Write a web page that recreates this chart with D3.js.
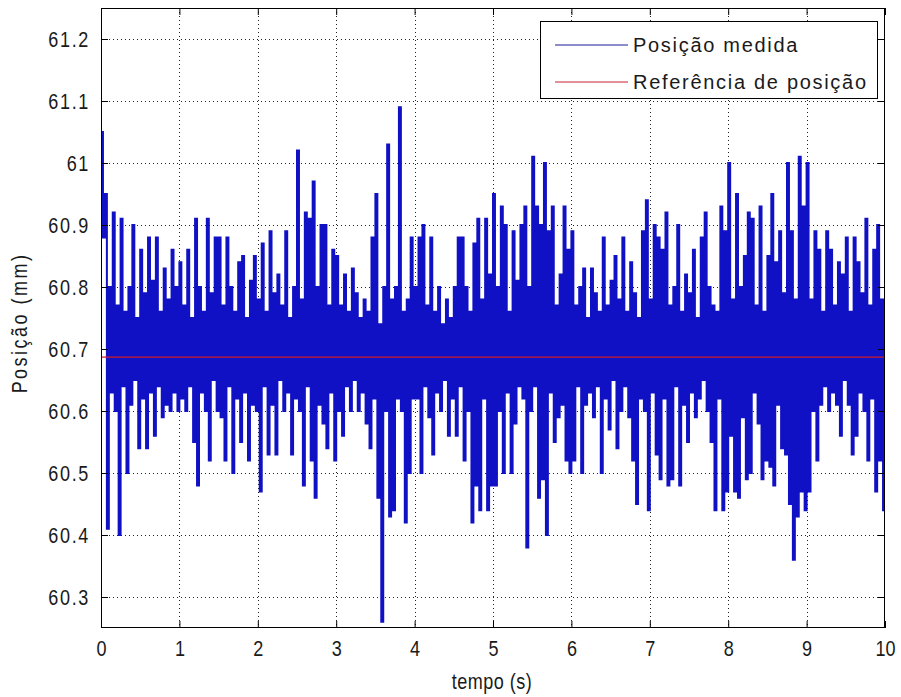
<!DOCTYPE html>
<html>
<head>
<meta charset="utf-8">
<script src="https://cdn.jsdelivr.net/npm/d3@7/dist/d3.min.js"></script>
<style>
  html, body { margin: 0; padding: 0; background: #ffffff; }
  svg { display: block; }
  text { font-family: "Liberation Sans", Arial, sans-serif; fill: #1a1a1a; }
</style>
</head>
<body>
<svg id="chart" width="901" height="697"></svg>
<script>
const amostraDt = 0.025;
const posicao0 = [61.05,60.88,60.95,60.41,60.80,60.63,60.92,60.60,60.77,60.40,60.91,60.64,60.76,60.50,60.80,60.61,60.90,60.65,60.75,60.54,60.86,60.62,60.79,60.54,60.88,60.63,60.81,60.56,60.88,60.64,60.76,60.59,60.83,60.61,60.78,60.60,60.86,60.63,60.80,60.60];
const posicao1 = [60.84,60.62,60.77,60.60,60.86,60.64,60.75,60.55,60.91,60.48,60.80,60.63,60.76,60.60,60.91,60.52,60.79,60.65,60.88,60.60,60.88,60.59,60.77,60.52,60.88,60.64,60.80,60.50,60.76,60.62,60.84,60.55,60.85,60.63,60.75,60.52,60.81,60.61,60.85,60.60];
const posicao2 = [60.78,60.47,60.87,60.64,60.76,60.53,60.89,60.61,60.79,60.53,60.82,60.65,60.77,60.60,60.89,60.63,60.75,60.53,60.80,60.62,61.02,60.60,60.78,60.48,60.92,60.64,60.91,60.52,60.97,60.46,60.80,60.61,60.90,60.58,60.90,60.54,60.77,60.63,60.86,60.52];
const posicao3 = [60.85,60.60,60.77,60.56,60.82,60.64,60.76,60.60,60.83,60.65,60.79,60.60,60.75,60.63,60.78,60.58,60.76,60.54,60.88,60.62,60.95,60.46,60.74,60.26,60.80,60.60,61.03,60.43,60.78,60.44,60.80,60.62,61.09,60.60,60.76,60.42,60.78,60.50,60.88,60.62];
const posicao4 = [60.80,60.62,60.88,60.50,60.90,60.64,60.77,60.59,60.88,60.53,60.76,60.63,60.80,60.60,60.74,60.65,60.78,60.56,60.75,60.62,60.80,60.56,60.88,60.64,60.88,60.52,60.80,60.60,60.76,60.42,60.87,60.48,60.91,60.44,60.78,60.62,60.91,60.44,60.82,60.48];
const posicao5 = [60.95,60.48,60.80,60.60,60.93,60.50,60.90,60.63,60.76,60.50,60.89,60.58,60.81,60.64,60.90,60.62,60.93,60.38,60.80,60.60,61.01,60.64,60.93,60.46,60.90,60.49,61.00,60.40,60.89,60.63,60.93,60.55,60.77,60.59,60.82,60.61,60.93,60.52,60.86,60.50];
const posicao6 = [60.89,60.52,60.77,60.64,60.80,60.50,60.83,60.61,60.75,60.63,60.83,60.59,60.79,60.64,60.76,60.50,60.88,60.62,60.77,60.57,60.81,60.65,60.85,60.54,60.78,60.60,60.88,60.64,60.76,60.59,60.84,60.52,60.79,60.45,60.75,60.62,60.89,60.60,60.94,60.44];
const posicao7 = [60.78,60.63,60.90,60.53,60.88,60.49,60.86,60.62,60.92,60.48,60.77,60.49,60.80,60.64,60.90,60.48,60.76,60.61,60.82,60.55,60.79,60.63,60.86,60.59,60.75,60.62,60.88,60.65,60.92,60.60,60.80,60.55,60.77,60.44,60.76,60.62,60.93,60.44,60.89,60.47];
const posicao8 = [61.00,60.56,60.78,60.47,60.95,60.46,60.80,60.59,60.85,60.49,60.92,60.50,60.91,60.63,60.77,60.58,60.93,60.49,60.76,60.52,60.85,60.51,60.95,60.48,60.84,60.61,60.89,60.54,60.79,60.53,61.00,60.45,60.89,60.36,60.78,60.43,61.01,60.47,60.93,60.44];
const posicao9 = [61.00,60.47,60.78,60.60,60.89,60.52,60.86,60.61,60.76,60.64,60.89,60.60,60.86,60.63,60.77,60.61,60.84,60.56,60.82,60.65,60.88,60.61,60.76,60.53,60.88,60.56,60.84,60.63,60.79,60.60,60.91,60.52,60.77,60.62,60.86,60.47,60.90,60.52,60.78,60.44,60.91];

// Reference position (constant set point)
const refTempo = [0, 10];
const refValor = [60.687, 60.687];

// Axis ticks
const xTicks = [0, 1, 2, 3, 4, 5, 6, 7, 8, 9, 10];
const yTicks = [60.3, 60.4, 60.5, 60.6, 60.7, 60.8, 60.9, 61.0, 61.1, 61.2];
const xDominio = [0, 10];
const yDominio = [60.25, 61.25];

const legendaRotulos = ["Posição medida", "Referência de posição"];
const xTitulo = "tempo (s)";
const yTitulo = "Posição (mm)";

// ---- Build the series ----
const segundos = [posicao0, posicao1, posicao2, posicao3, posicao4, posicao5, posicao6, posicao7, posicao8, posicao9];
const medida = [];
segundos.forEach((arr, s) => arr.forEach((v, k) => medida.push({ t: s + k * amostraDt, v })));
const referencia = refTempo.map((t, i) => ({ t, v: refValor[i] }));

// ---- Layout ----
const svg = d3.select("#chart");
const L = 101, T = 8, W = 784, H = 620;
const x = d3.scaleLinear().domain(xDominio).range([L, L + W]);
const y = d3.scaleLinear().domain(yDominio).range([T + H, T]);
const SX = 0.82; // horizontal squeeze for the narrow tick font

svg.append("rect").attr("x", 0).attr("y", 0).attr("width", 901).attr("height", 697).attr("fill", "#ffffff");

// grid (dotted)
const grid = svg.append("g").attr("stroke", "#222").attr("stroke-width", 1).attr("stroke-dasharray", "1,3");
grid.selectAll(".gx").data(xTicks.slice(1, -1)).enter().append("line")
  .attr("x1", d => Math.round(x(d)) + 0.5).attr("x2", d => Math.round(x(d)) + 0.5)
  .attr("y1", T).attr("y2", T + H);
grid.selectAll(".gy").data(yTicks).enter().append("line")
  .attr("y1", d => Math.round(y(d)) + 0.5).attr("y2", d => Math.round(y(d)) + 0.5)
  .attr("x1", L).attr("x2", L + W);

// clip
svg.append("clipPath").attr("id", "clip").append("rect").attr("x", L).attr("y", T).attr("width", W).attr("height", H);

// measured line
const linha = d3.line().x(d => x(d.t)).y(d => y(d.v)).curve(d3.curveStepAfter);
svg.append("path").datum(medida).attr("clip-path", "url(#clip)")
  .attr("fill", "none").attr("stroke", "#1010c4").attr("stroke-width", 2.0)
  .attr("stroke-linejoin", "miter")
  .attr("d", linha);

// reference line
const linhaRef = d3.line().x(d => x(d.t)).y(d => y(d.v));
svg.append("path").datum(referencia)
  .attr("fill", "none").attr("stroke", "#d21a2a").attr("stroke-width", 1.2)
  .attr("d", linhaRef);

// axes (ticks inward, box)
const tickLen = 7;
const axB = d3.axisBottom(x).tickValues(xTicks).tickSize(-tickLen).tickPadding(12).tickFormat(d3.format("d"));
const axT = d3.axisTop(x).tickValues(xTicks).tickSize(-tickLen).tickFormat("");
const axLft = d3.axisLeft(y).tickValues(yTicks).tickSize(-tickLen).tickPadding(11).tickFormat(d => d3.format("")(+d.toFixed(1)));
const axR = d3.axisRight(y).tickValues(yTicks).tickSize(-tickLen).tickFormat("");

function estilo(g) {
  g.select(".domain").remove();
  g.selectAll(".tick line").attr("stroke", "#000").attr("stroke-width", 1);
  g.selectAll(".tick text").attr("fill", "#1a1a1a").style("font-size", "22px")
    .style("letter-spacing", "2px")
    .style("font-family", "'Liberation Sans',sans-serif");
}
svg.append("g").attr("transform", `translate(0,${T + H})`).call(axB).call(estilo)
  .selectAll(".tick text").attr("transform", `scale(${SX},1)`).style("letter-spacing", "0px");
svg.append("g").attr("transform", `translate(0,${T})`).call(axT).call(estilo);
const gL = svg.append("g").attr("transform", `translate(${L},0)`).call(axLft).call(estilo);
gL.selectAll(".tick text").attr("x", -11 / SX).attr("transform", `scale(${SX},1)`);
svg.append("g").attr("transform", `translate(${L + W},0)`).call(axR).call(estilo);

svg.append("rect").attr("x", L + 0.5).attr("y", T + 0.5).attr("width", W - 1).attr("height", H - 1)
  .attr("fill", "none").attr("stroke", "#000").attr("stroke-width", 1);

// axis titles
svg.append("text").attr("text-anchor", "middle")
  .attr("transform", `translate(${L + W / 2 - 1},689) scale(${SX},1)`)
  .style("font-size", "22px").style("letter-spacing", "0.6px")
  .text(xTitulo);
svg.append("text").attr("transform", `translate(27,${T + H / 2 + 5}) rotate(-90) scale(${SX},1)`).attr("text-anchor", "middle")
  .style("font-size", "22px").style("letter-spacing", "3px")
  .text(yTitulo);

// legend
const lg = svg.append("g");
lg.append("rect").attr("x", 540.5).attr("y", 21.5).attr("width", 337).attr("height", 77)
  .attr("fill", "#fff").attr("stroke", "#000").attr("stroke-width", 1);
const cores = ["#1a1a9a", "#c8202e"];
legendaRotulos.forEach((r, i) => {
  const yy = 45 + i * 37;
  lg.append("line").attr("x1", 555).attr("x2", 628).attr("y1", yy).attr("y2", yy)
    .attr("stroke", cores[i]).attr("stroke-width", 1);
  lg.append("text").attr("x", 633).attr("y", yy + 7).style("font-size", "20px")
    .style("letter-spacing", "1.7px").text(r);
});
</script>
</body>
</html>
